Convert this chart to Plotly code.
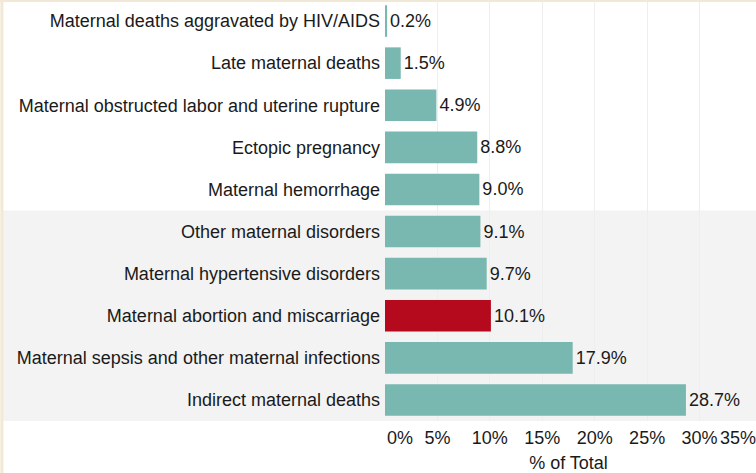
import plotly.graph_objects as go

categories = [
    "Maternal deaths aggravated by HIV/AIDS",
    "Late maternal deaths",
    "Maternal obstructed labor and uterine rupture",
    "Ectopic pregnancy",
    "Maternal hemorrhage",
    "Other maternal disorders",
    "Maternal hypertensive disorders",
    "Maternal abortion and miscarriage",
    "Maternal sepsis and other maternal infections",
    "Indirect maternal deaths",
]
values = [0.2, 1.5, 4.9, 8.8, 9.0, 9.1, 9.7, 10.1, 17.9, 28.7]
highlight = "Maternal abortion and miscarriage"
tick_vals = [0, 5, 10, 15, 20, 25, 30, 35]
tick_text = ["0%", "5%", "10%", "15%", "20%", "25%", "30%", "35%"]
x_range = [0, 35]

TEAL = "#79b7b1"
RED = "#b5091e"
GRID = "#eeeeee"

colors = [RED if c == highlight else TEAL for c in categories]
labels = [f"{v:.1f}%" for v in values]

FONT = "Arial, Liberation Sans, sans-serif"
FS = 18

fig = go.Figure()
fig.add_trace(go.Bar(
    x=values, y=categories, orientation="h",
    marker=dict(color=colors, line=dict(width=0)),
    width=0.75,
    text=labels, textposition="outside", cliponaxis=False,
    textfont=dict(family=FONT, size=FS, color="#1a1a1a"),
    hoverinfo="skip",
))
# empty traces so the overlay axes (end tick labels) are drawn
fig.add_trace(go.Scatter(x=[], y=[], xaxis="x2", yaxis="y", hoverinfo="skip"))
fig.add_trace(go.Scatter(x=[], y=[], xaxis="x3", yaxis="y", hoverinfo="skip"))

common = dict(
    range=x_range, tickangle=0, showgrid=True, gridcolor=GRID, gridwidth=1,
    zeroline=False, showline=False, ticks="", ticklabelstandoff=4,
    automargin=False, fixedrange=True, side="bottom",
    tickfont=dict(family=FONT, size=FS, color="#1a1a1a"),
)

fig.update_layout(
    width=756, height=473,
    margin=dict(l=385, r=4, t=0, b=52, autoexpand=False),
    paper_bgcolor="white", plot_bgcolor="white",
    font=dict(family=FONT, size=FS, color="#1a1a1a"),
    showlegend=False,
    xaxis=dict(
        tickvals=tick_vals[1:-1], ticktext=tick_text[1:-1],
        title=dict(text="% of Total", standoff=10, font=dict(size=FS)),
        **common,
    ),
    xaxis2=dict(
        overlaying="x", anchor="y",
        tickvals=tick_vals[:1], ticktext=tick_text[:1],
        ticklabelposition="outside right", ticklabelshift=2,
        **common,
    ),
    xaxis3=dict(
        overlaying="x", anchor="y",
        tickvals=tick_vals[-1:], ticktext=tick_text[-1:],
        ticklabelposition="outside left", ticklabelshift=4,
        **common,
    ),
    yaxis=dict(
        categoryorder="array", categoryarray=categories,
        autorange="reversed", showgrid=False, zeroline=False,
        ticks="", ticklabelstandoff=4, automargin=False, fixedrange=True,
    ),
    bargap=0.25,
    shapes=[
        dict(type="rect", xref="paper", yref="y", x0=-1.045, x1=1.02,
             y0=4.5, y1=9.5, fillcolor="#f3f3f3", line=dict(width=0),
             layer="below"),
        dict(type="line", xref="paper", yref="paper", x0=-1.044, x1=-1.044,
             y0=-0.2, y1=1.01, line=dict(color="#f1e9d6", width=3)),
        dict(type="line", xref="paper", yref="paper", x0=-1.05, x1=1.02,
             y0=0.999, y1=0.999, line=dict(color="#f1e9d6", width=3)),
    ],
)

fig.write_html(
    "out.html",
    config={"displayModeBar": False},
    post_script="document.body.style.margin='0';document.body.style.padding='0';",
)
